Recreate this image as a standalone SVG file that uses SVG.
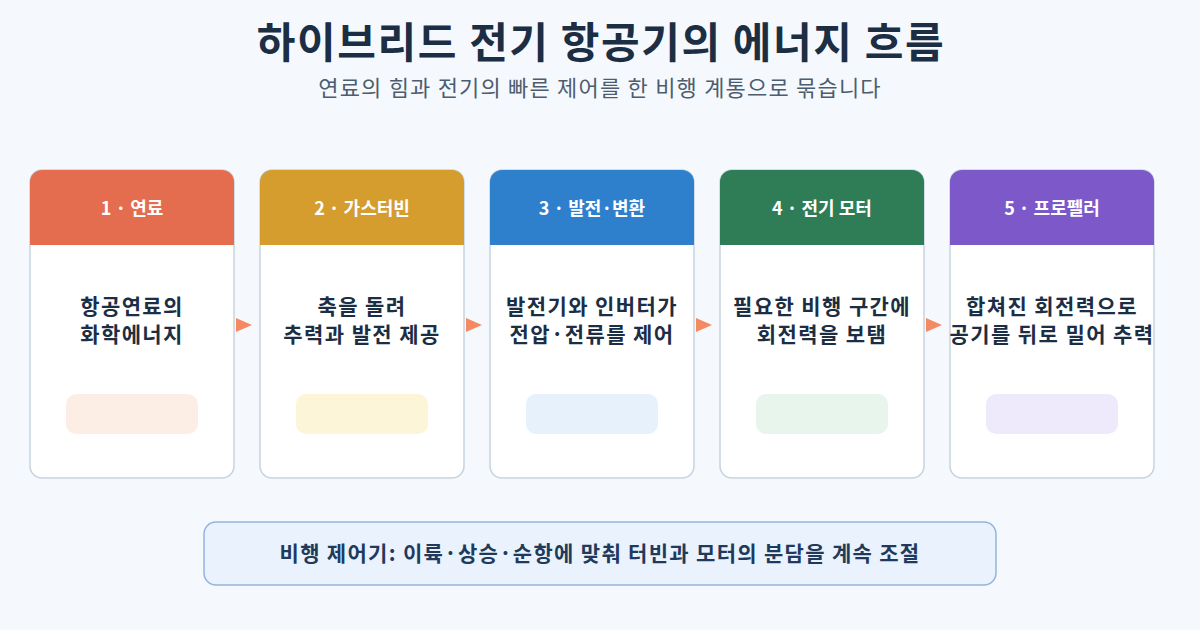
<svg xmlns="http://www.w3.org/2000/svg" width="1200" height="630" viewBox="0 0 1200 630">
<style>
.t{font-family:"Noto Sans CJK KR","Noto Sans",sans-serif;text-anchor:middle}
.title{font-size:42px;font-weight:700;fill:#1b2e44;letter-spacing:1.6px}
.sub{font-size:22px;fill:#4d5d70;letter-spacing:1.2px}
.card{fill:#ffffff;stroke:#c6d3df;stroke-width:1.5}
.hd{font-size:18px;font-weight:700;fill:#ffffff}
.body{font-size:21px;font-weight:700;fill:#1b2e44;letter-spacing:1.4px}
.arr{fill:#f58a62}
.ctl{fill:#e9f2fd;stroke:#93b4da;stroke-width:1.5}
.ctlt{font-size:21px;font-weight:700;fill:#1f3a5c;letter-spacing:1.3px}
</style>
<rect width="1200" height="630" fill="#f5f9fd"/>
<text class="t title" x="601" y="58">하이브리드 전기 항공기의 에너지 흐름</text>
<text class="t sub" x="600" y="96">연료의 힘과 전기의 빠른 제어를 한 비행 계통으로 묶습니다</text>

<g id="n1">
<rect class="card" x="30" y="170" width="204" height="308" rx="12"/>
<path d="M30 245 V182 a12 12 0 0 1 12 -12 H222 a12 12 0 0 1 12 12 V245 Z" fill="#e46d50"/>
<text class="t hd" x="132" y="215">1 · 연료</text>
<text class="t body" x="132" y="314">항공연료의</text>
<text class="t body" x="132" y="342">화학에너지</text>
<rect x="66" y="394" width="132" height="40" rx="10" fill="#fdeee5"/>
</g>
<g id="n2">
<rect class="card" x="260" y="170" width="204" height="308" rx="12"/>
<path d="M260 245 V182 a12 12 0 0 1 12 -12 H452 a12 12 0 0 1 12 12 V245 Z" fill="#d59c2e"/>
<text class="t hd" x="362" y="215">2 · 가스터빈</text>
<text class="t body" x="362" y="314">축을 돌려</text>
<text class="t body" x="362" y="342">추력과 발전 제공</text>
<rect x="296" y="394" width="132" height="40" rx="10" fill="#fdf5d8"/>
</g>
<g id="n3">
<rect class="card" x="490" y="170" width="204" height="308" rx="12"/>
<path d="M490 245 V182 a12 12 0 0 1 12 -12 H682 a12 12 0 0 1 12 12 V245 Z" fill="#2f80cc"/>
<text class="t hd" x="592" y="215">3 · 발전·변환</text>
<text class="t body" x="592" y="314">발전기와 인버터가</text>
<text class="t body" x="592" y="342">전압·전류를 제어</text>
<rect x="526" y="394" width="132" height="40" rx="10" fill="#e6f1fc"/>
</g>
<g id="n4">
<rect class="card" x="720" y="170" width="204" height="308" rx="12"/>
<path d="M720 245 V182 a12 12 0 0 1 12 -12 H912 a12 12 0 0 1 12 12 V245 Z" fill="#2e7d56"/>
<text class="t hd" x="822" y="215">4 · 전기 모터</text>
<text class="t body" x="822" y="314">필요한 비행 구간에</text>
<text class="t body" x="822" y="342">회전력을 보탬</text>
<rect x="756" y="394" width="132" height="40" rx="10" fill="#e7f5ec"/>
</g>
<g id="n5">
<rect class="card" x="950" y="170" width="204" height="308" rx="12"/>
<path d="M950 245 V182 a12 12 0 0 1 12 -12 H1142 a12 12 0 0 1 12 12 V245 Z" fill="#7c58c9"/>
<text class="t hd" x="1052" y="215">5 · 프로펠러</text>
<text class="t body" x="1052" y="314">합쳐진 회전력으로</text>
<text class="t body" x="1052" y="342">공기를 뒤로 밀어 추력</text>
<rect x="986" y="394" width="132" height="40" rx="10" fill="#efeafb"/>
</g>

<g id="connectors">
<path class="arr" d="M236 318 L252 325 L236 332 Z"/>
<path class="arr" d="M466 318 L482 325 L466 332 Z"/>
<path class="arr" d="M696 318 L712 325 L696 332 Z"/>
<path class="arr" d="M926 318 L942 325 L926 332 Z"/>
</g>

<g id="controller">
<rect class="ctl" x="204" y="522" width="792" height="63" rx="12"/>
<text class="t ctlt" x="600" y="561">비행 제어기: 이륙·상승·순항에 맞춰 터빈과 모터의 분담을 계속 조절</text>
</g>
</svg>
